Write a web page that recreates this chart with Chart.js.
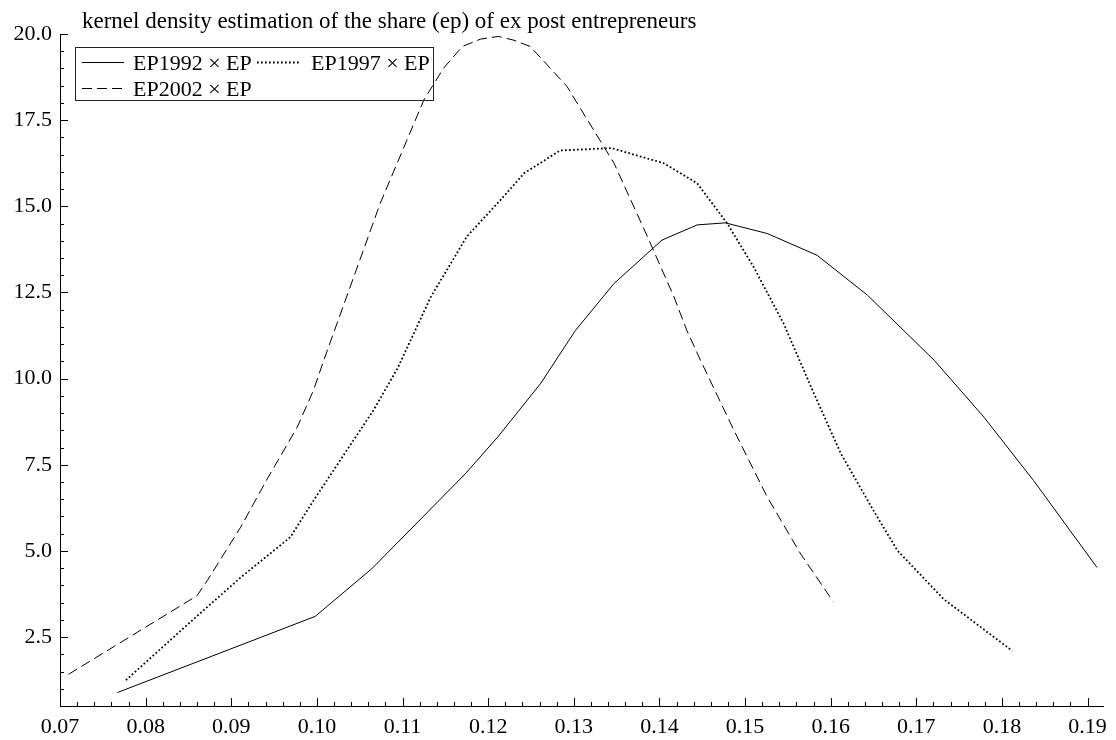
<!DOCTYPE html>
<html lang="en">
<head>
    <meta charset="UTF-8">
    <title>kernel density estimation of the share (ep) of ex post entrepreneurs</title>
    <script src="https://cdn.jsdelivr.net/npm/chart.js"></script>
    <style>
        html, body { margin: 0; padding: 0; background: #fff; }
        #wrap { width: 1116px; height: 740px; position: relative; }
    </style>
</head>
<body>
    <div id="wrap"><canvas id="kdeChart"></canvas></div>

    <script>
        // Werte
        const titleText = 'kernel density estimation of the share (ep) of ex post entrepreneurs';
        const seriesLabels = ['EP1992 × EP', 'EP1997 × EP', 'EP2002 × EP'];

        const ep1992X = [0.0767, 0.0998, 0.1064, 0.1173, 0.1211, 0.1261, 0.1302, 0.1347, 0.1403, 0.1444, 0.1477, 0.1526, 0.1584, 0.1643, 0.1721, 0.1779, 0.1837, 0.1911];
        const ep1992Y = [0.89, 3.10, 4.48, 7.23, 8.30, 9.85, 11.40, 12.76, 14.02, 14.46, 14.52, 14.21, 13.58, 12.42, 10.53, 8.88, 7.04, 4.52];

        const ep1997X = [0.0777, 0.0856, 0.0911, 0.0969, 0.0996, 0.1035, 0.1066, 0.1094, 0.1133, 0.1175, 0.1211, 0.1242, 0.1284, 0.1344, 0.1405, 0.1444, 0.1479, 0.1510, 0.1545, 0.1577, 0.1612, 0.1650, 0.1678, 0.1732, 0.1812];
        const ep1997Y = [1.25, 3.02, 4.23, 5.40, 6.46, 7.92, 9.08, 10.29, 12.37, 14.12, 15.09, 15.96, 16.62, 16.69, 16.25, 15.67, 14.51, 13.24, 11.60, 9.76, 7.82, 6.17, 5.01, 3.60, 2.10];

        const ep2002X = [0.0710, 0.0860, 0.0872, 0.0911, 0.0942, 0.0977, 0.0996, 0.1008, 0.1074, 0.1125, 0.1148, 0.1170, 0.1191, 0.1212, 0.1230, 0.1249, 0.1292, 0.1323, 0.1347, 0.1386, 0.1417, 0.1432, 0.1448, 0.1487, 0.1526, 0.1565, 0.1603];
        const ep2002Y = [1.42, 3.70, 4.14, 5.69, 7.09, 8.59, 9.66, 10.53, 15.09, 18.09, 19.01, 19.64, 19.85, 19.93, 19.82, 19.64, 18.48, 17.22, 16.25, 14.12, 12.37, 11.40, 10.53, 8.50, 6.56, 4.91, 3.53];

        const xTicks = [0.07, 0.08, 0.09, 0.10, 0.11, 0.12, 0.13, 0.14, 0.15, 0.16, 0.17, 0.18, 0.19];
        const yTicks = [2.5, 5.0, 7.5, 10.0, 12.5, 15.0, 17.5, 20.0];

        const xMin = 0.07, xMax = 0.1918, xMinorStep = 0.002;
        const yMin = 0.5, yMax = 20.0, yMinorStep = 0.5;

        const serif = '"Liberation Serif", "Times New Roman", serif';

        function toPoints(xs, ys) {
            return xs.map((x, i) => ({ x: x, y: ys[i] }));
        }

        // Titel oben links
        const titlePlugin = {
            id: 'topTitle',
            afterDraw(chart) {
                const ctx = chart.ctx;
                ctx.save();
                ctx.fillStyle = '#000';
                ctx.font = '23px ' + serif;
                ctx.textBaseline = 'alphabetic';
                ctx.fillText(titleText, 82, 28);
                ctx.restore();
            }
        };

        // Legende im Diagramm, mit Rahmen
        const boxLegend = {
            id: 'boxLegend',
            afterDatasetsDraw(chart) {
                const ctx = chart.ctx;
                const slots = [
                    { x: 82, y: 62, tx: 133 },
                    { x: 257, y: 62, tx: 311 },
                    { x: 82, y: 88, tx: 133 }
                ];
                ctx.save();
                ctx.strokeStyle = '#222';
                ctx.lineWidth = 1;
                ctx.strokeRect(75.5, 47.5, 358, 53);
                chart.data.datasets.forEach((d, i) => {
                    const s = slots[i];
                    ctx.beginPath();
                    ctx.setLineDash(d.borderDash || []);
                    ctx.lineWidth = d.borderWidth;
                    ctx.strokeStyle = d.borderColor;
                    ctx.moveTo(s.x, s.y + 0.5);
                    ctx.lineTo(s.x + 42, s.y + 0.5);
                    ctx.stroke();
                    ctx.setLineDash([]);
                    ctx.fillStyle = '#000';
                    ctx.font = '22px ' + serif;
                    ctx.textBaseline = 'alphabetic';
                    ctx.fillText(d.label, s.tx, s.y + 8);
                });
                ctx.restore();
            }
        };

        // Tick-Striche nach innen (groß + klein)
        const innerTicks = {
            id: 'innerTicks',
            afterDraw(chart) {
                const { ctx, scales: { x, y } } = chart;
                ctx.save();
                ctx.strokeStyle = '#000';
                ctx.lineWidth = 1;
                ctx.beginPath();
                for (let i = 0; ; i++) {
                    const v = xMin + i * xMinorStep;
                    if (v > xMax + 1e-9) break;
                    const px = Math.round(x.getPixelForValue(v)) + 0.5;
                    const len = (i % 5 === 0) ? 8 : 4;
                    ctx.moveTo(px, x.top);
                    ctx.lineTo(px, x.top - len);
                }
                for (let i = 1; ; i++) {
                    const v = yMin + i * yMinorStep;
                    if (v > yMax + 1e-9) break;
                    const py = Math.round(y.getPixelForValue(v)) + 0.5;
                    const len = ((i + 1) % 5 === 0) ? 8 : 4;
                    ctx.moveTo(y.right, py);
                    ctx.lineTo(y.right + len, py);
                }
                ctx.stroke();
                ctx.restore();
            }
        };

        function lineSet(label, pts, dash, width) {
            return {
                label: label,
                data: pts,
                borderColor: '#000',
                backgroundColor: '#000',
                borderWidth: width,
                borderDash: dash,
                pointRadius: 0,
                tension: 0,
                fill: false
            };
        }

        new Chart(document.getElementById('kdeChart'), {
            type: 'line',
            data: {
                datasets: [
                    lineSet(seriesLabels[0], toPoints(ep1992X, ep1992Y), [], 1),
                    lineSet(seriesLabels[1], toPoints(ep1997X, ep1997Y), [1.7, 2.3], 1.8),
                    lineSet(seriesLabels[2], toPoints(ep2002X, ep2002Y), [10, 5], 1)
                ]
            },
            options: {
                responsive: true,
                maintainAspectRatio: false,
                animation: false,
                layout: { padding: { top: 34, right: 13, left: 0, bottom: 0 } },
                plugins: {
                    legend: { display: false },
                    title: { display: false },
                    tooltip: { enabled: false }
                },
                scales: {
                    x: {
                        type: 'linear',
                        min: xMin,
                        max: xMax,
                        afterFit(s) { s.height = 34; },
                        afterBuildTicks(s) { s.ticks = xTicks.map(v => ({ value: v })); },
                        grid: { display: true, drawOnChartArea: false, drawTicks: false },
                        border: { display: true, color: '#000', width: 1 },
                        ticks: {
                            autoSkip: false,
                            maxRotation: 0,
                            padding: 8,
                            color: '#000',
                            font: { family: serif, size: 22 },
                            callback: v => Number(v).toFixed(2)
                        }
                    },
                    y: {
                        type: 'linear',
                        min: yMin,
                        max: yMax,
                        afterFit(s) { s.width = 60; },
                        afterBuildTicks(s) { s.ticks = yTicks.map(v => ({ value: v })); },
                        grid: { display: true, drawOnChartArea: false, drawTicks: false },
                        border: { display: true, color: '#000', width: 1 },
                        ticks: {
                            autoSkip: false,
                            padding: 8,
                            color: '#000',
                            font: { family: serif, size: 22 },
                            callback: v => Number(v).toFixed(1)
                        }
                    }
                }
            },
            plugins: [innerTicks, boxLegend, titlePlugin]
        });
    </script>
</body>
</html>
